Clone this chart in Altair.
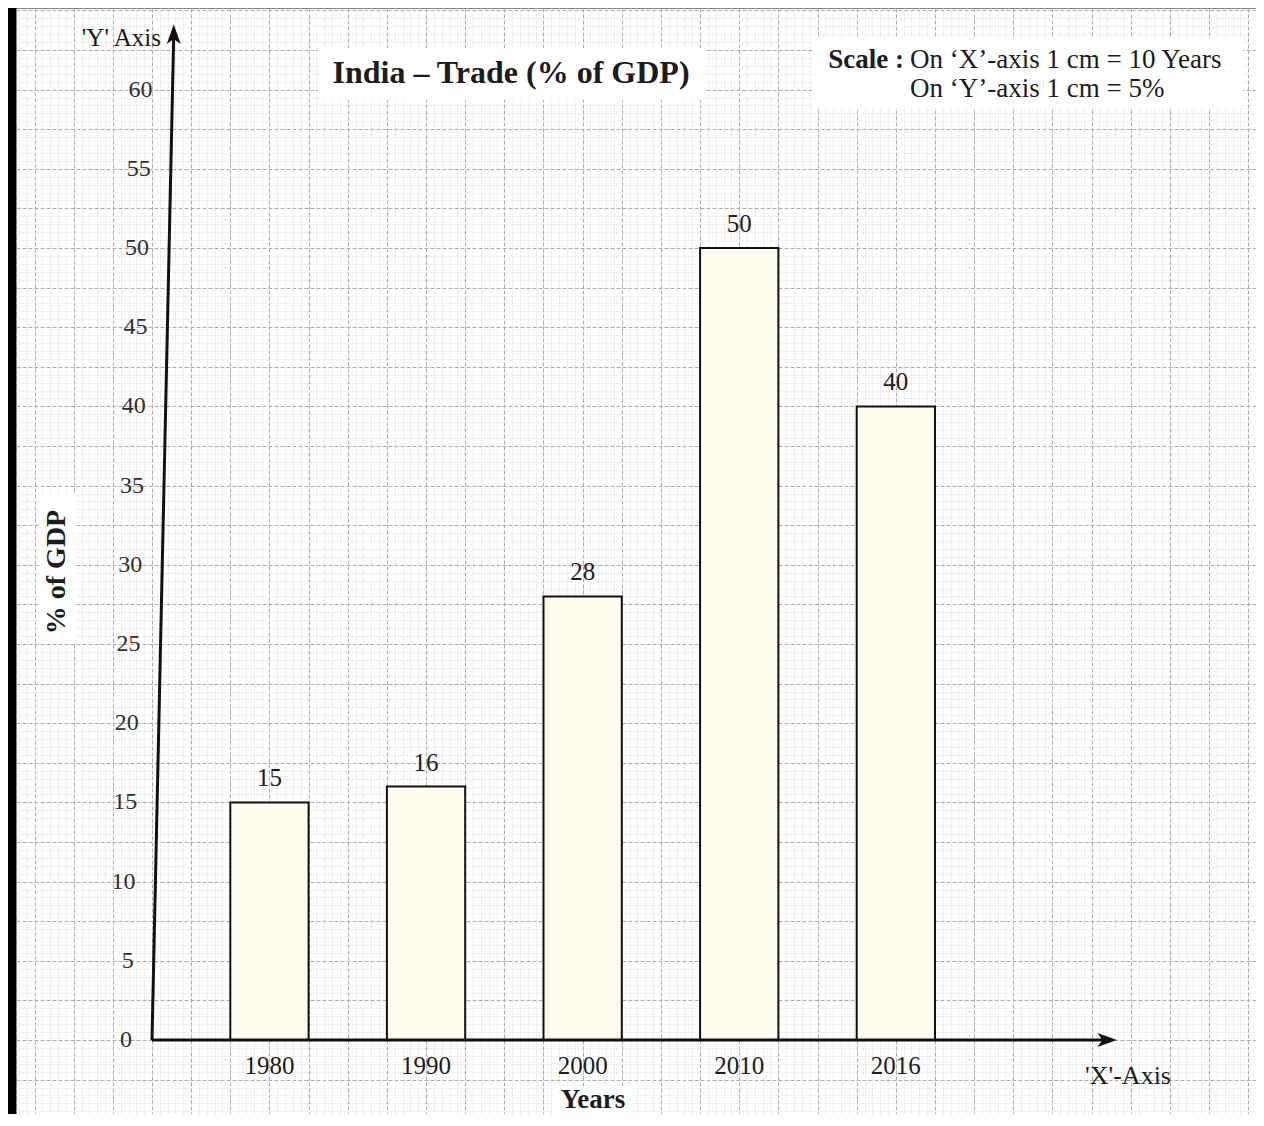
import altair as alt
import pandas as pd

# ---------------- data ----------------
years = ["1980", "1990", "2000", "2010", "2016"]
trade_pct = [15, 16, 28, 50, 40]
y_ticks = [0, 5, 10, 15, 20, 25, 30, 35, 40, 45, 50, 55, 60]

title_text = "India – Trade (% of GDP)"
scale_label = "Scale :"
scale_x_text = "On ‘X’-axis 1 cm = 10 Years"
scale_y_text = "On ‘Y’-axis 1 cm = 5%"
y_axis_name = "'Y' Axis"
x_axis_name = "'X'-Axis"
y_title = "% of GDP"
x_title = "Years"

# ---------------- layout / style ----------------
W, H = 1240, 1106
X_DOMAIN = [-1.737, 14.10]   # in cm of graph paper
Y_DOMAIN = [-4.67, 65.15]    # in % units
SERIF = "Liberation Serif"
INK = "#1c1c1c"
TICK_INK = "#2e2e2e"
AXIS_INK = "#111111"
SLANT = 0.00437              # the printed y axis leans slightly right

bars_df = pd.DataFrame({"Year": years, "Value": trade_pct, "idx": list(range(len(years)))})
ticks_df = pd.DataFrame({"t": y_ticks, "lab": [str(v) for v in y_ticks]})
one = pd.DataFrame({"k": [0]})

xs = alt.Scale(domain=X_DOMAIN, nice=False, zero=False)
ys = alt.Scale(domain=Y_DOMAIN, nice=False, zero=False)

x_grid_vals = [round(-1.7 + 0.1 * i, 1) for i in range(159)]
y_grid_vals = [round(-4.5 + 0.5 * i, 1) for i in range(140)]

x_major = "round(datum.value*10) % 5 === 0"
y_major = "round(datum.value*2) % 5 === 0"
MAJOR_C, MINOR_C = "#b4a9a9", "#ddd2d2"

x_axis = alt.Axis(
    values=x_grid_vals, grid=True, labels=False, ticks=False, domain=False, title=None,
    gridColor={"condition": {"test": x_major, "value": MAJOR_C}, "value": MINOR_C},
    gridDash={"condition": {"test": x_major, "value": [4, 2]}, "value": [1, 2]},
    gridWidth=1,
)
y_axis = alt.Axis(
    values=y_grid_vals, grid=True, labels=False, ticks=False, domain=False, title=None,
    gridColor={"condition": {"test": y_major, "value": MAJOR_C}, "value": MINOR_C},
    gridDash={"condition": {"test": y_major, "value": [4, 2]}, "value": [1, 2]},
    gridWidth=1,
)

# ---------------- bars ----------------
bars = (
    alt.Chart(bars_df)
    .transform_calculate(x0="2*datum.idx+1", x1="2*datum.idx+2")
    .mark_rect(fill="#fffdf0", stroke=AXIS_INK, strokeWidth=2)
    .encode(
        x=alt.X("x0:Q", scale=xs, axis=x_axis),
        x2="x1:Q",
        y=alt.Y("Value:Q", scale=ys, axis=y_axis),
        y2=alt.datum(0),
    )
)

val_labels = (
    alt.Chart(bars_df)
    .transform_calculate(xc="2*datum.idx+1.5")
    .mark_text(font=SERIF, fontSize=25, color=INK, baseline="middle", dy=-24)
    .encode(
        x=alt.X("xc:Q", scale=xs, axis=None),
        y=alt.Y("Value:Q", scale=ys, axis=None),
        text="Value:Q",
    )
)

year_labels = (
    alt.Chart(bars_df)
    .transform_calculate(xc="2*datum.idx+1.5")
    .mark_text(font=SERIF, fontSize=25, color=INK, baseline="middle", dy=26)
    .encode(
        x=alt.X("xc:Q", scale=xs, axis=None),
        y=alt.YDatum(0, axis=None),
        text="Year:N",
    )
)

tick_labels = (
    alt.Chart(ticks_df)
    .transform_calculate(xl=f"{SLANT}*datum.t")
    .mark_text(font=SERIF, fontSize=24, color=TICK_INK, align="right", baseline="middle", dx=-20)
    .encode(
        x=alt.X("xl:Q", scale=xs, axis=None),
        y=alt.Y("t:Q", scale=ys, axis=None),
        text="lab:N",
    )
)

# ---------------- axes with arrows ----------------
y_top = 63.4
y_line = alt.Chart(one).mark_rule(color=AXIS_INK, strokeWidth=3).encode(
    x=alt.XDatum(0, axis=None), y=alt.YDatum(0, axis=None),
    x2=alt.datum(SLANT * y_top), y2=alt.datum(y_top),
)
x_line = alt.Chart(one).mark_rule(color=AXIS_INK, strokeWidth=3).encode(
    x=alt.XDatum(0, axis=None), x2=alt.datum(12.15), y=alt.YDatum(0, axis=None),
)
y_arrow = alt.Chart(one).mark_point(
    shape="M0,-1L0.72,1L0,0.5L-0.72,1Z", size=380, filled=True, color=AXIS_INK, opacity=1
).encode(x=alt.XDatum(SLANT * 63.5, axis=None), y=alt.YDatum(63.5, axis=None))
x_arrow = alt.Chart(one).mark_point(
    shape="M1,0L-1,0.72L-0.5,0L-1,-0.72Z", size=380, filled=True, color=AXIS_INK, opacity=1
).encode(x=alt.XDatum(12.2, axis=None), y=alt.YDatum(0, axis=None))

# ---------------- annotation boxes & texts ----------------
def box(x1, x2, y1, y2):
    return alt.Chart(one).mark_rect(fill="white").encode(
        x=alt.value(x1), x2=alt.value(x2), y=alt.value(y1), y2=alt.value(y2)
    )

def label(txt, x, y, size, bold=False, align="center", angle=0, color=INK):
    kw = dict(font=SERIF, fontSize=size, color=color, align=align, baseline="middle",
              fontWeight="bold" if bold else "normal")
    if angle:
        kw["angle"] = angle
    return alt.Chart(pd.DataFrame({"t": [txt]})).mark_text(**kw).encode(
        x=alt.value(x), y=alt.value(y), text="t:N"
    )

layers = [
    bars,
    box(302, 689, 40, 92),
    box(796, 1227, 30, 100),
    box(24, 60, 486, 636),
    box(538, 616, 1078, 1106),
    val_labels,
    year_labels,
    tick_labels,
    y_line, x_line, y_arrow, x_arrow,
    label(title_text, 495, 65, 32, bold=True),
    label(scale_label, 888, 52, 27, bold=True, align="right"),
    label(scale_x_text, 894, 52, 27, align="left"),
    label(scale_y_text, 894, 81, 27, align="left"),
    label(y_axis_name, 145, 30, 25, align="right"),
    label(x_axis_name, 1112, 1068, 26),
    label(y_title, 41, 564, 28, bold=True, angle=270),
    label(x_title, 577, 1092, 27, bold=True),
]

chart = (
    alt.layer(*layers)
    .resolve_axis(x="independent", y="independent")
    .properties(
        width=W, height=H, background="#000000",
        padding={"left": 8, "top": 0, "right": 0, "bottom": 0},
        autosize=alt.AutoSizeParams(type="none"),
    )
    .configure_view(fill="white", strokeOpacity=0)
)

chart.save("out.html", embed_options={"renderer": "svg", "actions": False})
